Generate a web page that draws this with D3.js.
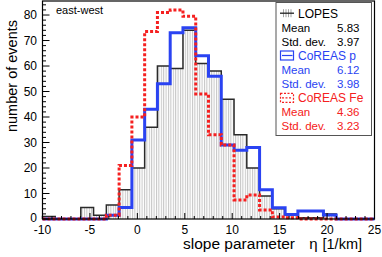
<!DOCTYPE html>
<html><head><meta charset="utf-8">
<script src="https://cdn.jsdelivr.net/npm/d3@7"></script>
<style>
html,body{margin:0;padding:0;background:#fff;}
svg text{font-family:"Liberation Sans",Arial,Helvetica,sans-serif;}
</style></head>
<body><svg id="c" width="382" height="257"></svg>
<script>
// ---- data (26 bins from -10 to 25) ----
const binCount = 26;
const xRange = [-10, 25];
const lopes    = [1, 0, 0, 4.5, 1.5, 5.5, 11.5, 20, 36, 60, 59, 74, 61, 58, 47, 33, 20, 9, 4, 2, 0.5, 0.5, 2, 0, 0, 0];
const coreasP  = [0, 0, 0, 0, 0, 1.5, 4.5, 31, 43, 53, 73, 75, 64, 56, 29, 27, 28, 11.5, 4.4, 1.8, 3.1, 3.1, 1.6, 0, 0, 0];
const coreasFe = [0, 0, 0, 0, 0, 1.5, 21, 40, 73.5, 81, 82, 79.5, 49, 33, 29, 7.5, 9.4, 3.5, 0.8, 0.5, 0, 0, 0, 0, 0, 0];
const xTicks = [-10, -5, 0, 5, 10, 15, 20, 25];
const yTicks = [0, 10, 20, 30, 40, 50, 60, 70, 80];
const legendRows = [
  {label: "LOPES", mean: "5.83", std: "3.97"},
  {label: "CoREAS p", mean: "6.12", std: "3.98"},
  {label: "CoREAS Fe", mean: "4.36", std: "3.23"}
];

const svg = d3.select("#c");
const x = d3.scaleLinear().domain(xRange).range([42.5, 374.5]);
const y = d3.scaleLinear().domain([0, 85.5]).range([219, 1]);
const bw = (xRange[1] - xRange[0]) / binCount;

function stepPath(vals) {
  const p = d3.path();
  p.moveTo(x(xRange[0]), y(0));
  vals.forEach((v, i) => {
    const x0 = x(xRange[0] + i * bw), x1 = x(xRange[0] + (i + 1) * bw);
    p.lineTo(x0, y(v));
    p.lineTo(x1, y(v));
  });
  p.lineTo(x(xRange[1]), y(0));
  return p.toString();
}

// hatch pattern
const defs = svg.append("defs");
const pat = defs.append("pattern").attr("id", "hatch").attr("patternUnits", "userSpaceOnUse")
  .attr("width", 2.4).attr("height", 10);
pat.append("rect").attr("width", 2.4).attr("height", 10).attr("fill", "#fff");
pat.append("rect").attr("x", 0).attr("width", 1).attr("height", 10).attr("fill", "#c4c4c4");

// LOPES
svg.append("path").attr("d", stepPath(lopes) + "Z").attr("fill", "url(#hatch)").attr("stroke", "none");
svg.append("path").attr("d", stepPath(lopes)).attr("fill", "none").attr("stroke", "#2a2a2a").attr("stroke-width", 1.5);
// CoREAS p
svg.append("path").attr("d", stepPath(coreasP)).attr("fill", "none").attr("stroke", "#2a43f2").attr("stroke-width", 3);
// CoREAS Fe
svg.append("path").attr("d", stepPath(coreasFe)).attr("fill", "none").attr("stroke", "#f52020")
  .attr("stroke-width", 3).attr("stroke-dasharray", "3,2");

// frame
svg.append("rect").attr("x", x(xRange[0])).attr("y", y(85.5)).attr("width", x(xRange[1]) - x(xRange[0]))
  .attr("height", y(0) - y(85.5)).attr("fill", "none").attr("stroke", "#000").attr("stroke-width", 1.2);

// x axis ticks (inside)
const xMinor = d3.range(-10, 26, 1);
svg.append("g").selectAll("line").data(xMinor).join("line")
  .attr("x1", d => x(d)).attr("x2", d => x(d))
  .attr("y1", y(0)).attr("y2", d => y(0) - (d % 5 === 0 ? 6 : 3))
  .attr("stroke", "#000").attr("stroke-width", 1);
svg.append("g").selectAll("text").data(xTicks).join("text")
  .attr("x", d => x(d)).attr("y", 233.5).attr("text-anchor", "middle")
  .attr("font-size", 12).attr("fill", "#000").text(d => d);

// y axis ticks (inside)
const yMinor = d3.range(0, 86, 2);
svg.append("g").selectAll("line").data(yMinor).join("line")
  .attr("x1", x(-10)).attr("x2", d => x(-10) + (d % 10 === 0 ? 7 : 3.5))
  .attr("y1", d => y(d)).attr("y2", d => y(d))
  .attr("stroke", "#000").attr("stroke-width", 1);
svg.append("g").selectAll("text").data(yTicks).join("text")
  .attr("x", 37).attr("y", d => y(d) + (d === 0 ? 2.5 : 4.3)).attr("text-anchor", "end")
  .attr("font-size", 12).attr("fill", "#000").text(d => d);

// axis titles
svg.append("text").attr("x", 183).attr("y", 249).attr("font-size", 15.5).attr("fill", "#000").text("slope parameter");
svg.append("text").attr("x", 313.5).attr("y", 249).attr("text-anchor", "middle").attr("font-size", 15).attr("fill", "#000").text("η");
svg.append("text").attr("x", 362).attr("y", 249).attr("text-anchor", "end").attr("font-size", 14.5).attr("fill", "#000").text("[1/km]");
svg.append("text").attr("transform", "translate(17,20) rotate(-90)").attr("text-anchor", "end")
  .attr("font-size", 14.5).attr("fill", "#000").text("number of events");

svg.append("text").attr("x", 56).attr("y", 14).attr("font-size", 11).attr("fill", "#000").text("east-west");

// legend
const lg = svg.append("g");
lg.append("rect").attr("x", 276).attr("y", 2.5).attr("width", 95.5).attr("height", 133)
  .attr("fill", "#fff").attr("stroke", "#555").attr("stroke-width", 1);
const colors = ["#000", "#2a43f2", "#f52020"];
legendRows.forEach((r, i) => {
  const top = 17.5 + i * 42.3;
  const c = colors[i];
  lg.append("text").attr("x", 298).attr("y", top).attr("font-size", 12).attr("fill", c).text(r.label);
  lg.append("text").attr("x", 281.5).attr("y", top + 14).attr("font-size", 11.5).attr("fill", c).text("Mean");
  lg.append("text").attr("x", 359.5).attr("y", top + 14).attr("font-size", 11.5).attr("fill", c).attr("text-anchor", "end").text(r.mean);
  lg.append("text").attr("x", 281.5).attr("y", top + 28).attr("font-size", 11.5).attr("fill", c).text("Std. dev.");
  lg.append("text").attr("x", 359.5).attr("y", top + 28).attr("font-size", 11.5).attr("fill", c).attr("text-anchor", "end").text(r.std);
  const cy = top - 4.3;
  if (i === 0) {
    [283.5, 286, 288.5, 291].forEach(xx => lg.append("line").attr("x1", xx).attr("x2", xx)
      .attr("y1", cy - 4).attr("y2", cy + 4).attr("stroke", "#999").attr("stroke-width", 0.9));
    lg.append("line").attr("x1", 280).attr("x2", 294).attr("y1", cy).attr("y2", cy).attr("stroke", "#222").attr("stroke-width", 1.3);
  } else {
    const dash = i === 2 ? "2,1.5" : null;
    lg.append("rect").attr("x", 280.5).attr("y", cy - 4.5).attr("width", 13).attr("height", 9)
      .attr("fill", "none").attr("stroke", c).attr("stroke-width", 1.2).attr("stroke-dasharray", dash);
    lg.append("line").attr("x1", 282).attr("x2", 292.5).attr("y1", cy).attr("y2", cy)
      .attr("stroke", c).attr("stroke-width", 1.2).attr("stroke-dasharray", dash);
  }
});
</script></body></html>
